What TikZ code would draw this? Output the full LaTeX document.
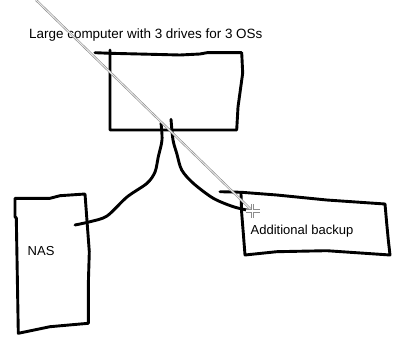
\documentclass[tikz,border=0pt]{standalone}
\usepackage{fontspec}
\setmainfont{Liberation Sans}
\begin{document}
\begin{tikzpicture}[%
    x=1pt,y=-1pt,%
    sketch/.style={draw,line width=2.9pt,line cap=round,line join=round},%
    lbl/.style={anchor=base west,inner sep=0pt,font=\fontsize{13}{15}\selectfont},%
    pointer/.style={draw=black!45,double=black!8,line width=0.6pt,double distance=1pt},%
]%
    \useasboundingbox (0,0) rectangle (412,342);
    \pgfmathsetmacro{\arm}{7}

    % texts
    \node[lbl,font=\fontsize{13.45}{15}\selectfont] (title) at (29,38.3)
        {Large computer with 3 drives for 3 OSs};
    \node[lbl] (nas) at (27.5,255) {NAS};
    \node[lbl] (backup) at (250.5,234.3) {Additional backup};

    % boxes, drawn by hand
    \draw[sketch] (95,52.7) -- (110,53.3) -- (180,55) -- (200,54) -- (207,52.7)
        -- (241.7,52.7) -- (242.7,73) -- (238,107) -- (236.7,130)
        -- (110,130) -- (110,50);
    \draw[sketch] (15,198.3) -- (50,198.3) -- (60,195.7) -- (85,194)
        -- (87.3,225) -- (89.3,251.7) -- (88.3,285) -- (88.3,323.3)
        -- (50,326.7) -- (18.3,333.3) -- (16.3,218) -- (15,216.7) -- cycle;
    \draw[sketch] (220,191.7) -- (241.7,192.3) -- (276.7,195) -- (326.7,200)
        -- (385,204) -- (386.7,223.3) -- (388.3,240) -- (390,255)
        -- (326.7,250.7) -- (276.7,251.7) -- (245,255) -- (243.3,233.3)
        -- (241.7,213.3) -- (241,194);

    % cables
    \coordinate (pcL) at (161,123);
    \coordinate (pcR) at (171,119.3);
    \coordinate (nasEnd) at (75,225);
    \coordinate (backupEnd) at (248.3,210.3);
    \draw[sketch] plot[smooth] coordinates {(pcL) (162,140) (158.3,156.7)
        (155,172) (147,183.3) (127,197) (107,216) (90,221.7) (nasEnd)};
    \draw[sketch] plot[smooth] coordinates {(pcR) (173,140) (176.7,153.3)
        (181.7,170) (193.3,183.3) (213.3,198.3) (233.3,206.7) (backupEnd)};

    % pointer line and cross cursor
    \coordinate (start) at (36,0);
    \coordinate (cursor) at (252.5,211);
    \draw[pointer] (start) -- (cursor);
    \foreach \w/\c in {3.4pt/black!45,1.3pt/white}{%
        \draw[line width=\w,\c] (cursor) +(-\arm,0) -- +(\arm,0)
            (cursor) +(0,-\arm) -- +(0,\arm);
    }
\end{tikzpicture}
\end{document}
